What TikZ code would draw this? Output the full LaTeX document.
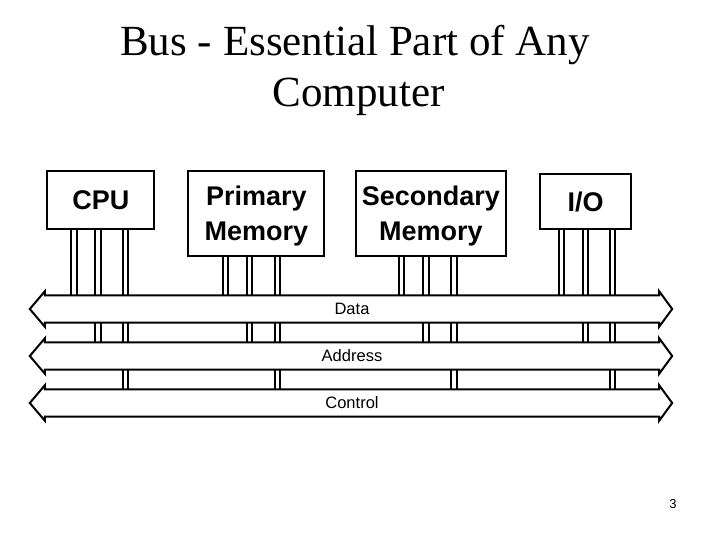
\documentclass[tikz,border=0pt]{standalone}
\usepackage{fontspec}
\setmainfont{Liberation Sans}
\newfontfamily\titlefont{Liberation Serif}
\usetikzlibrary{calc,backgrounds}
\newcommand\buswire[3]{%
  \draw[wire] let \p1=(#1.south), \p2=(#3.north) in
    ({\x1+(#2)-2.7pt},\y1) -- ({\x1+(#2)-2.7pt},\y2)
    ({\x1+(#2)+2.7pt},\y1) -- ({\x1+(#2)+2.7pt},\y2);}
\begin{document}
\begin{tikzpicture}[x=1pt,y=1pt,
  unit/.style={draw, line width=2pt, fill=white, inner sep=0pt, align=center,
    font=\fontsize{27}{34.3}\selectfont\bfseries},
  twoline/.style={text depth=0pt},
  busbody/.style={inner sep=0pt, minimum width=614pt, minimum height=27pt,
    font=\fontsize{16.5}{20}\selectfont},
  busline/.style={draw, line width=2pt, fill=white, line join=miter},
  wire/.style={line width=2pt},
  titletext/.style={anchor=base, inner sep=0pt, font=\titlefont\fontsize{43}{51}\selectfont},
]
\useasboundingbox (0,0) rectangle (720,540);

% title
\node[titletext] (t1) at (355,484) {Bus - Essential Part of Any};
\node[titletext] (t2) at (358.8,433) {Computer};

% units
\node[unit, minimum width=107pt, minimum height=58.3pt] (cpu) at (100.8,340.15) {CPU};
\node[unit, twoline, minimum width=136pt, minimum height=85pt] (pm) at (256.3,326.8) {Primary\\Memory};
\node[unit, twoline, minimum width=149.7pt, minimum height=84.7pt] (sm) at (430.85,326.65) {Secondary\\Memory};
\node[unit, minimum width=91pt, minimum height=55pt] (io) at (585.5,338.5) {I/O};

% buses
\node[busbody] (data) at (352,231) {Data};
\node[busbody] (addr) at (352,184) {Address};
\node[busbody] (ctrl) at (352,137) {Control};

\begin{scope}[on background layer]
  % wires
  \buswire{cpu}{-26.8pt}{data}
  \buswire{cpu}{-2.8pt}{addr}
  \buswire{cpu}{24.7pt}{ctrl}
  \buswire{pm}{-30.9pt}{data}
  \buswire{pm}{-6.8pt}{addr}
  \buswire{pm}{21.1pt}{ctrl}
  \buswire{sm}{-29.35pt}{data}
  \buswire{sm}{-5.05pt}{addr}
  \buswire{sm}{23.15pt}{ctrl}
  \buswire{io}{-24.3pt}{data}
  \buswire{io}{0pt}{addr}
  \buswire{io}{27.1pt}{ctrl}
  % bus outlines
  \foreach \b in {data,addr,ctrl}{
    \draw[busline] (\b.north west) -- (\b.north east) -- ++(0,4)
      -- ($(\b.east)+(13,0)$) -- ($(\b.south east)+(0,-4)$) -- (\b.south east)
      -- (\b.south west) -- ++(0,-4) -- ($(\b.west)+(-15,0)$)
      -- ($(\b.north west)+(0,4)$) -- cycle;
  }
\end{scope}

% page number
\node[font=\fontsize{13}{15}\selectfont, inner sep=0pt] (pg) at (673,36.3) {3};
\end{tikzpicture}
\end{document}
